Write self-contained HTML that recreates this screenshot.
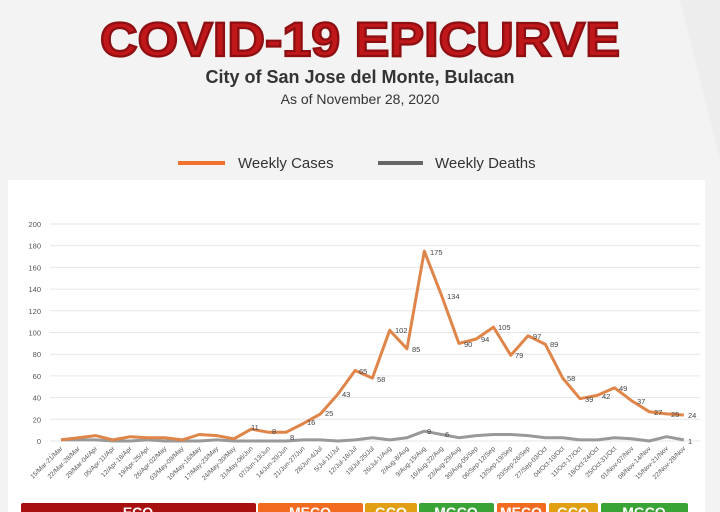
<!DOCTYPE html>
<html><head><meta charset="utf-8"><style>
html,body{margin:0;padding:0;width:720px;height:512px;overflow:hidden;background:#f3f3f3;font-family:"Liberation Sans",sans-serif}
</style></head><body>
<svg width="720" height="512" viewBox="0 0 720 512" xmlns="http://www.w3.org/2000/svg" font-family="Liberation Sans, sans-serif">
<rect width="720" height="512" fill="#f3f3f3"/>
<path d="M680 0 L720 0 L720 160 Z" fill="#ededed"/>
<text x="100" y="56" textLength="520" lengthAdjust="spacingAndGlyphs" font-size="48" font-weight="bold" fill="#c0171b" stroke="#8d0f12" stroke-width="2.2">COVID-19 EPICURVE</text>
<text x="360" y="83" text-anchor="middle" font-size="18" font-weight="bold" fill="#333">City of San Jose del Monte, Bulacan</text>
<text x="360" y="104" text-anchor="middle" font-size="14" fill="#333">As of November 28, 2020</text>
<line x1="178" y1="163" x2="225" y2="163" stroke="#f0722c" stroke-width="4"/>
<text x="238" y="168" font-size="15" fill="#333">Weekly Cases</text>
<line x1="378" y1="163" x2="423" y2="163" stroke="#666" stroke-width="4"/>
<text x="435" y="168" font-size="15" fill="#333">Weekly Deaths</text>
<rect x="8" y="180" width="697" height="332" fill="#fff"/>
<g stroke="#e6e6e6" stroke-width="1">
<line x1="50" y1="224" x2="700" y2="224"/><line x1="50" y1="245.7" x2="700" y2="245.7"/><line x1="50" y1="267.4" x2="700" y2="267.4"/><line x1="50" y1="289.1" x2="700" y2="289.1"/><line x1="50" y1="310.8" x2="700" y2="310.8"/><line x1="50" y1="332.5" x2="700" y2="332.5"/><line x1="50" y1="354.2" x2="700" y2="354.2"/><line x1="50" y1="375.9" x2="700" y2="375.9"/><line x1="50" y1="397.6" x2="700" y2="397.6"/><line x1="50" y1="419.3" x2="700" y2="419.3"/><line x1="50" y1="441" x2="700" y2="441"/>
</g>
<g font-size="7.5" fill="#555" text-anchor="end">
<text x="41" y="227">200</text><text x="41" y="248.7">180</text><text x="41" y="270.4">160</text><text x="41" y="292.1">140</text><text x="41" y="313.8">120</text><text x="41" y="335.5">100</text><text x="41" y="357.2">80</text><text x="41" y="378.9">60</text><text x="41" y="400.6">40</text><text x="41" y="422.3">20</text><text x="41" y="444">0</text>
</g>
<polyline fill="none" stroke="#999" stroke-width="3" stroke-linejoin="round" points="61,439.9 78.3,439.9 95.6,439.9 112.9,441 130.2,441 147.5,439.9 164.8,441 182.1,441 199.4,441 216.7,439.9 234,441 251.3,441 268.6,441 285.9,441 303.2,439.9 320.5,439.9 337.8,441 355.1,439.9 372.4,437.7 389.7,439.9 407,437.7 424.3,431.2 441.6,434.5 458.9,437.7 476.2,435.6 493.5,434.5 510.8,434.5 528.1,435.6 545.4,437.7 562.7,437.7 580,439.9 597.3,439.9 614.6,437.7 631.9,438.8 649.2,441 666.5,436.7 683.8,439.9"/>
<polyline fill="none" stroke="#e0854a" stroke-width="3" stroke-linejoin="round" points="61,439.9 78.3,437.7 95.6,435.6 112.9,439.9 130.2,436.7 147.5,437.7 164.8,437.7 182.1,439.9 199.4,434.5 216.7,435.6 234,438.8 251.3,429.1 268.6,432.3 285.9,432.3 303.2,423.6 320.5,413.9 337.8,394.3 355.1,370.5 372.4,378.1 389.7,330.3 407,348.8 424.3,251.1 441.6,295.6 458.9,343.4 476.2,339 493.5,327.1 510.8,355.3 528.1,335.8 545.4,344.4 562.7,378.1 580,398.7 597.3,395.4 614.6,387.8 631.9,400.9 649.2,411.7 666.5,413.9 683.8,415"/>
<g font-size="7.5" fill="#444">
<text x="251" y="430">11</text><text x="272" y="434">8</text><text x="290" y="440">8</text><text x="307" y="425">16</text><text x="325" y="416">25</text><text x="342" y="397">43</text><text x="359" y="374">65</text><text x="377" y="382">58</text><text x="395" y="333">102</text><text x="412" y="352">85</text><text x="430" y="255">175</text><text x="447" y="299">134</text><text x="464" y="347">90</text><text x="481" y="342">94</text><text x="498" y="330">105</text><text x="515" y="358">79</text><text x="533" y="339">97</text><text x="550" y="347">89</text><text x="567" y="381">58</text><text x="585" y="402">39</text><text x="602" y="399">42</text><text x="619" y="391">49</text><text x="637" y="404">37</text><text x="654" y="415">27</text><text x="671" y="417">25</text><text x="688" y="418">24</text>
<text x="688" y="444">1</text><text x="427" y="434">9</text><text x="445" y="437">6</text>
</g>
<g font-size="6.5" fill="#555" text-anchor="end">
<text transform="translate(63,449) rotate(-45)">15/Mar-21/Mar</text>
<text transform="translate(80.3,449) rotate(-45)">22/Mar-28/Mar</text>
<text transform="translate(97.6,449) rotate(-45)">29/Mar-04/Apr</text>
<text transform="translate(114.9,449) rotate(-45)">05/Apr-11/Apr</text>
<text transform="translate(132.2,449) rotate(-45)">12/Apr-18/Apr</text>
<text transform="translate(149.5,449) rotate(-45)">19/Apr-25/Apr</text>
<text transform="translate(166.8,449) rotate(-45)">26/Apr-02/May</text>
<text transform="translate(184.1,449) rotate(-45)">03/May-09/May</text>
<text transform="translate(201.4,449) rotate(-45)">10/May-16/May</text>
<text transform="translate(218.7,449) rotate(-45)">17/May-23/May</text>
<text transform="translate(236,449) rotate(-45)">24/May-30/May</text>
<text transform="translate(253.3,449) rotate(-45)">31/May-06/Jun</text>
<text transform="translate(270.6,449) rotate(-45)">07/Jun-13/Jun</text>
<text transform="translate(287.9,449) rotate(-45)">14/Jun-20/Jun</text>
<text transform="translate(305.2,449) rotate(-45)">21/Jun-27/Jun</text>
<text transform="translate(322.5,449) rotate(-45)">28/Jun-4/Jul</text>
<text transform="translate(339.8,449) rotate(-45)">5/Jul-11/Jul</text>
<text transform="translate(357.1,449) rotate(-45)">12/Jul-18/Jul</text>
<text transform="translate(374.4,449) rotate(-45)">19/Jul-25/Jul</text>
<text transform="translate(391.7,449) rotate(-45)">26/Jul-1/Aug</text>
<text transform="translate(409,449) rotate(-45)">2/Aug-8/Aug</text>
<text transform="translate(426.3,449) rotate(-45)">9/Aug-15/Aug</text>
<text transform="translate(443.6,449) rotate(-45)">16/Aug-22/Aug</text>
<text transform="translate(460.9,449) rotate(-45)">23/Aug-29/Aug</text>
<text transform="translate(478.2,449) rotate(-45)">30/Aug-05/Sep</text>
<text transform="translate(495.5,449) rotate(-45)">06/Sep-12/Sep</text>
<text transform="translate(512.8,449) rotate(-45)">13/Sep-19/Sep</text>
<text transform="translate(530.1,449) rotate(-45)">20/Sep-26/Sep</text>
<text transform="translate(547.4,449) rotate(-45)">27/Sep-03/Oct</text>
<text transform="translate(564.7,449) rotate(-45)">04/Oct-10/Oct</text>
<text transform="translate(582,449) rotate(-45)">11/Oct-17/Oct</text>
<text transform="translate(599.3,449) rotate(-45)">18/Oct-24/Oct</text>
<text transform="translate(616.6,449) rotate(-45)">25/Oct-31/Oct</text>
<text transform="translate(633.9,449) rotate(-45)">01/Nov-07/Nov</text>
<text transform="translate(651.2,449) rotate(-45)">08/Nov-14/Nov</text>
<text transform="translate(668.5,449) rotate(-45)">15/Nov-21/Nov</text>
<text transform="translate(685.8,449) rotate(-45)">22/Nov-28/Nov</text>
</g>
<g font-size="14" font-weight="bold" fill="#fff" text-anchor="middle">
<rect x="21" y="503" width="235" height="12" rx="2" fill="#a80f0f"/><text x="138" y="517">ECQ</text>
<rect x="258" y="503" width="105" height="12" rx="2" fill="#f26b21"/><text x="310" y="517">MECQ</text>
<rect x="365" y="503" width="52" height="12" rx="2" fill="#e0a012"/><text x="391" y="517">GCQ</text>
<rect x="419" y="503" width="75" height="12" rx="2" fill="#3aa335"/><text x="456" y="517">MGCQ</text>
<rect x="497" y="503" width="49" height="12" rx="2" fill="#f26b21"/><text x="521" y="517">MECQ</text>
<rect x="549" y="503" width="49" height="12" rx="2" fill="#e0a012"/><text x="573" y="517">GCQ</text>
<rect x="601" y="503" width="87" height="12" rx="2" fill="#3aa335"/><text x="644" y="517">MGCQ</text>
</g>
</svg>
</body></html>
